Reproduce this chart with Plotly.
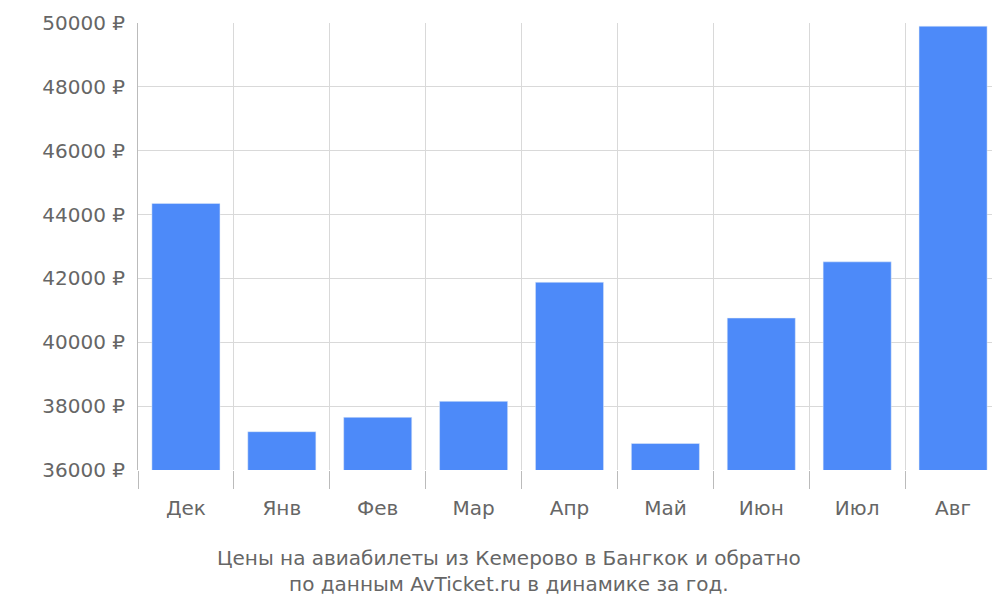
import plotly.graph_objects as go

months = ["Дек", "Янв", "Фев", "Мар", "Апр", "Май", "Июн", "Июл", "Авг"]
prices = [44350, 37200, 37650, 38150, 41880, 36830, 40760, 42520, 49900]
positions = list(range(len(months)))

fig = go.Figure(go.Bar(x=positions, y=prices, marker_color="#4d8af9", width=0.71))

fig.update_layout(
    width=1000, height=600,
    margin=dict(l=130, r=7, t=15, b=138),
    plot_bgcolor="white", paper_bgcolor="white",
    font=dict(family="DejaVu Sans", size=20, color="#666666"),
    showlegend=False,
)
fig.add_annotation(
    text="Цены на авиабилеты из Кемерово в Бангкок и обратно<br>по данным AvTicket.ru в динамике за год.",
    xref="paper", yref="paper", x=0.43, y=-0.165, yanchor="top", showarrow=False,
    font=dict(size=20, color="#666666"),
)
fig.update_xaxes(
    range=[-0.5, 8.5], tickvals=positions, ticktext=months,
    showgrid=False, ticks="outside", ticklen=20, tickcolor="rgba(0,0,0,0)",
    zeroline=False, automargin=False,
    minor=dict(tick0=-0.5, dtick=1, showgrid=True, gridcolor="#d9d9d9",
               ticks="outside", ticklen=18, tickcolor="#bbbbbb"),
)
fig.update_yaxes(
    range=[36000, 50000], dtick=2000, ticksuffix=" ₽", tickformat="d",
    gridcolor="#d9d9d9", zeroline=False, showline=True, linecolor="#bbbbbb",
    ticks="outside", ticklen=8, tickcolor="rgba(0,0,0,0)", automargin=False,
)
fig.write_html("out.html")
